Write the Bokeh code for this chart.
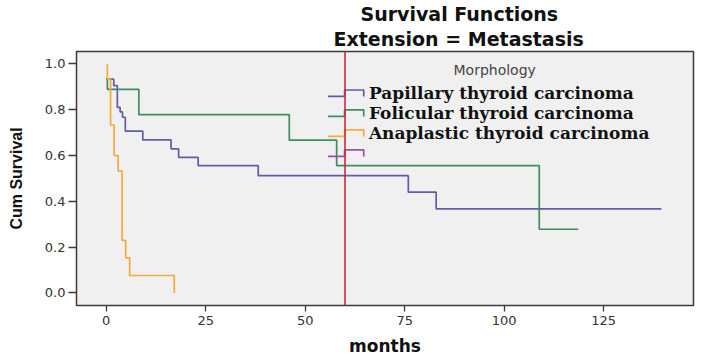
from bokeh.plotting import figure
from bokeh.models import Label, FixedTicker, Range1d, Span, NumeralTickFormatter, Title
from bokeh.embed import file_html
from bokeh.resources import INLINE

# Kaplan-Meier estimates (months, cumulative survival) per morphology
pap_time = [0.0, 1.9, 2.8, 3.5, 4.1, 4.8, 9.2, 16.3, 18.2, 23.1, 38.2, 75.9, 82.9]
pap_surv = [0.933, 0.905, 0.81, 0.79, 0.767, 0.706, 0.668, 0.629, 0.592, 0.556, 0.512, 0.44, 0.367]
pap_end = 139.5

fol_time = [0.0, 0.3, 8.2, 46.0, 57.9, 108.8]
fol_surv = [0.933, 0.889, 0.778, 0.667, 0.556, 0.278]
fol_end = 118.6

ana_time = [0.3, 0.3, 1.1, 2.0, 3.0, 4.0, 4.9, 5.9, 17.1]
ana_surv = [1.0, 0.933, 0.733, 0.6, 0.533, 0.229, 0.153, 0.076, 0.0]
ana_end = 17.1

reference_month = 60

series_names = ["Papillary thyroid carcinoma", "Folicular thyroid carcinoma",
                "Anaplastic thyroid carcinoma", ""]
series_colors = ["#5E5EA8", "#3F8C5C", "#F7A83E", "#9B4FA6"]

x_ticks = [0, 25, 50, 75, 100, 125]
y_ticks = [0.0, 0.2, 0.4, 0.6, 0.8, 1.0]


def km_path(times, surv, end):
    xs, ys = [times[0]], [surv[0]]
    for i in range(1, len(times)):
        xs += [times[i], times[i]]
        ys += [surv[i - 1], surv[i]]
    if end > xs[-1]:
        xs.append(end)
        ys.append(surv[-1])
    return xs, ys


p = figure(width=702, height=359, output_backend="svg", toolbar_location=None,
           x_range=Range1d(-7.46, 147.55), y_range=Range1d(-0.055, 1.054),
           min_border_left=76, min_border_right=9, min_border_top=51, min_border_bottom=54)

p.background_fill_color = "#F0F0F0"
p.border_fill_color = "white"
p.outline_line_color = "#3A3A3A"
p.outline_line_width = 1.5
p.xgrid.visible = False
p.ygrid.visible = False

for ax in (p.xaxis, p.yaxis):
    ax.axis_line_color = None
    ax.major_tick_line_color = "#3A3A3A"
    ax.major_tick_line_width = 1.3
    ax.major_tick_in = 0
    ax.minor_tick_line_color = None
    ax.major_label_text_font = "DejaVu Sans"
    ax.major_label_text_font_size = "13px"
    ax.major_label_text_color = "#333333"

p.xaxis.ticker = FixedTicker(ticks=x_ticks)
p.xaxis.major_tick_out = 6
p.xaxis.major_label_standoff = 4
p.xaxis.axis_label = "months"
p.xaxis.axis_label_text_font = "DejaVu Sans"
p.xaxis.axis_label_text_font_style = "bold"
p.xaxis.axis_label_text_font_size = "17px"
p.xaxis.axis_label_text_color = "#111111"
p.xaxis.axis_label_standoff = 8

p.yaxis.ticker = FixedTicker(ticks=y_ticks)
p.yaxis.formatter = NumeralTickFormatter(format="0.0")
p.yaxis.major_tick_out = 8
p.yaxis.major_label_standoff = 3
p.yaxis.axis_label = "Cum Survival"
p.yaxis.axis_label_text_font = "Liberation Sans"
p.yaxis.axis_label_text_font_style = "bold"
p.yaxis.axis_label_text_font_size = "16px"
p.yaxis.axis_label_text_color = "#111111"
p.yaxis.axis_label_standoff = 17

# survival step curves
for (t, s, e), col in zip([(pap_time, pap_surv, pap_end),
                           (fol_time, fol_surv, fol_end),
                           (ana_time, ana_surv, ana_end)], series_colors):
    xs, ys = km_path(t, s, e)
    p.line(xs, ys, line_color=col, line_width=1.7)

# reference month marker
p.add_layout(Span(location=reference_month, dimension="height",
                  line_color="#CC2A36", line_width=1.6))

# legend block (data units)
leg_x0, leg_x1, leg_x2 = 55.7, 59.9, 64.7
leg_y0, leg_rise, leg_step = 0.858, 0.028, 0.0873
leg_text_x = 66.0
for i, (name, col) in enumerate(zip(series_names, series_colors)):
    lo = leg_y0 - i * leg_step
    hi = lo + leg_rise
    p.line([leg_x0, leg_x1, leg_x1, leg_x2, leg_x2], [lo, lo, hi, hi, lo],
           line_color=col, line_width=1.7)
    if name:
        p.add_layout(Label(x=leg_text_x, y=(lo + hi) / 2, text=name,
                           text_font="DejaVu Serif", text_font_style="bold",
                           text_font_size="17px", text_color="#111111",
                           text_baseline="middle", text_align="left"))

p.add_layout(Label(x=97.6, y=0.974, text="Morphology", text_font="DejaVu Sans",
                   text_font_size="14px", text_color="#444444",
                   text_baseline="middle", text_align="center"))

# two-line heading; the first one added sits nearest the frame
for line, shift, gap in [("Extension = Metastasis", 257, 3), ("Survival Functions", 284, 0)]:
    p.add_layout(Title(text=line, align="left", offset=shift, standoff=gap,
                       text_font="DejaVu Sans", text_font_style="bold",
                       text_font_size="19px", text_color="#111111"), "above")

open("out.html", "w").write(file_html(p, INLINE))
